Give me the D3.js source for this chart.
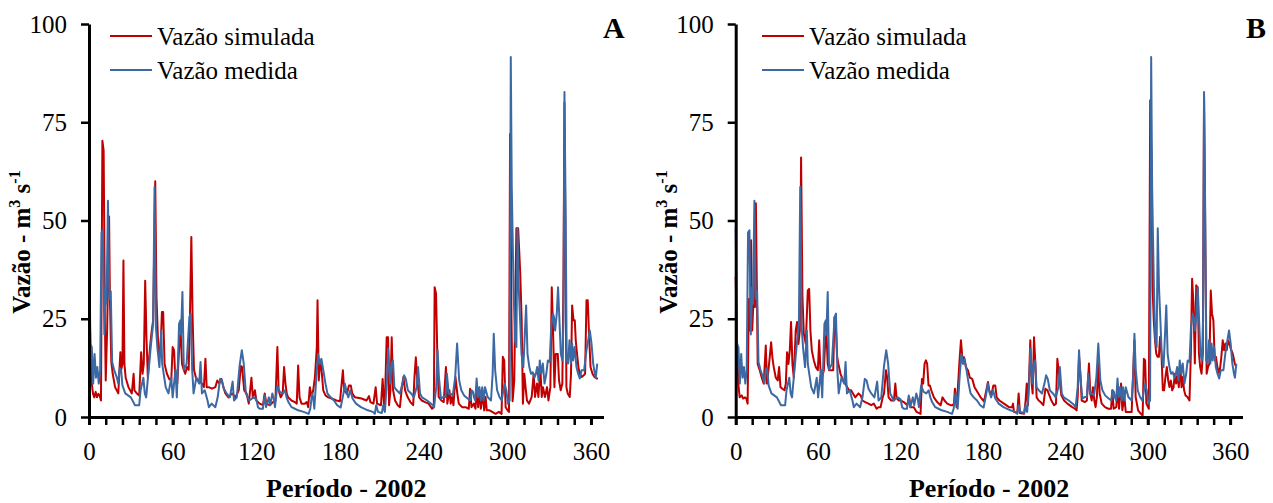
<!DOCTYPE html>
<html>
<head>
<meta charset="utf-8">
<script src="https://cdn.jsdelivr.net/npm/d3@7"></script>
<style>
  body { margin: 0; background: #fff; }
  svg { display: block; font-family: "Liberation Serif", "Times New Roman", serif; }
</style>
</head>
<body>
<svg id="chart" width="1273" height="503"></svg>
<script>
// measured discharge (same in both panels), [day, m3/s]
const medida = [
  [0,48.3],[1,18.6],[2,17.8],[3,8.5],[4,16],[5,10],[6,12.7],[7,8.5],[8,11.9],[9,47],[10,47.5],[11,21],[12,33],[12.6,28.8],[13.6,55],[14.6,30],[15.6,32],[16.6,14],[18,12],[20,10],[21,8.5],[22,12.4],[23,12],[24,8],[26,6],[30,5],[33,3],[36,3],[37,6.8],[39,10],[40,6],[41,5],[44.5,18.6],[46,23.7],[47,58.5],[48,23],[49,17.8],[50.5,12.7],[51.8,22],[52.5,13.5],[55,7.6],[57,6],[59,10],[60,5],[62,12],[63,5],[64.6,23.7],[65.6,24.6],[66,21],[67,31.8],[68,12],[70,13.5],[72,25.4],[73,26.3],[74,12],[75,6],[77,10],[79,8.5],[80,14],[81,6],[83,6.8],[85,4.2],[86,2.5],[88,3.4],[90.6,2.5],[92.3,5],[94,9.7],[95.3,9.3],[96.7,7.2],[98.7,6],[101,5],[103,9],[104,4.2],[106,5],[108,13],[109.6,17],[111,13.5],[112.5,6],[115,4.2],[118,5],
  [120,4.5],[121.2,2.5],[122.4,2.1],[124.7,2.1],[126,5.5],[127,2.5],[129,5],[130,3],[131.5,6],[132.5,4.7],[133.4,2.5],[135,8],[136.8,6.4],[138.8,6],[140.5,6.8],[141.7,5],[143,3.8],[145.3,2.5],[147.7,2.1],[150,1.7],[154,1.3],[157.5,0.8],[158.7,2.1],[160,6],[160.8,5],[161.6,2.1],[163,10],[164.3,16],[165.5,13.5],[166.7,14.8],[168,12],[169.6,8.5],[171,6],[173.3,5],[175.7,4.2],[178,3],[180.5,2.4],[182.5,6],[183.5,8.5],[185,6],[186,5],[187.4,6.8],[189,4.7],[191.5,3.4],[195,2.5],[200,1.7],[203.6,1.3],[205,0.8],[206,3],[207.3,1.3],[210,1],[211,3],[212.2,1.3],[213.6,8.5],[214.6,17.4],[216,8.5],[217,13.5],[218,14.4],[219,7.6],[220.7,6.8],[223,6],[224.8,8.5],[226,10.6],[227.2,9.7],[228.7,6.8],[231,6],[233,5],[235,7.6],[236,12.7],[237.4,6],[238.9,5],[242.5,4.2],
  [246,3.2],[247.5,2.5],[249,7.6],[250,17],[251,10],[252.4,4.7],[254.3,5.1],[255.7,5.1],[256.7,11],[258,5.9],[259.5,5.9],[260.9,5.5],[262.6,10],[264,18.7],[265.5,9.3],[267,6.8],[269,5.5],[271.5,4.7],[273.5,4.2],[274.4,6.8],[275.4,6.4],[276,5.1],[277,4.2],[278,9.8],[279,5.1],[280,7.6],[281,4.2],[282,7.6],[283,4.2],[284,7.6],[285.9,5.1],[288.3,4.2],[289.5,11],[290.3,21.2],[291.3,11.9],[292.7,6.8],[294.4,5.1],[296,4.2],[298,8.5],[299.3,6.8],[300.5,3.4],[301.7,4.2],[302.5,91.6],[303.2,58.5],[304.5,33],[305.5,19.5],[306.5,17.8],[307.3,48],[308.2,33],[309.2,24.6],[310.2,16],[311.5,12.7],[312.5,20.4],[313.5,28.4],[314.5,16],[315.8,12.7],[317,11],[318.2,11.4],[319.5,10],[320.5,11],[321.4,12.7],[322.4,9.3],[323.3,14.4],[324.3,11],[325.5,13.6],[326.7,8.5],[328,11],[329.1,14.4],[330.4,14],[331.5,22.9],[332.8,26.3],[333.5,25.4],[334.3,22],[335.5,26.3],[336.4,33],[337.4,24.6],[338.4,16],[339.5,14.4],[340.3,24.6],[341,82.7],[341.9,50],[342.6,14.4],[343.6,13.6],[344.6,19.5],[345.6,13.6],[346.5,18.7],[347.2,14.4],[348.3,17.8],[349.6,12.7],[350.8,11],[352,9.8],[353.2,11.9],[355.1,11.9],[356.8,17],[358,19.5],[359.2,22],[360.4,18.7],[361.6,13.6],[362.8,11],[363.5,10],[364.5,13.6]
];

// simulated discharge, panel A
const simuladaA = [
  [0,35.6],[1,18.6],[2,8.5],[2.9,5.9],[3.8,5],[4.8,6.4],[5.7,5],[6.7,5.9],[7.6,5.5],[8.6,4.2],[9.6,70.3],[10.5,67.8],[11.5,22],[12,9.3],[13,22],[14.4,51],[15,30],[16,14],[17,11],[18.7,7.6],[21,6],[22.5,16.5],[23,11.9],[24,13.5],[24.7,39.8],[25.4,13.5],[26.3,10],[28.3,7.6],[30.7,6],[32,11],[32.6,6.8],[34.3,6],[36,5.5],[37.4,16.5],[38.4,11],[39.3,13.5],[40.3,34.7],[41.2,20.3],[42.2,10],[43,14.4],[44,18.6],[45,22],[46,24.6],[47.5,60],[48.4,30.5],[49.4,20.3],[50.4,15.2],[51.3,17],[52.3,26.7],[53.2,26.7],[54.2,13.5],[55.9,11],[57.5,9.7],[59,9.3],[60,17.8],[61,17],[61.9,10],[63.3,8.5],[64.7,17.8],[65.7,22],[66.7,13.5],[68,12],[69,11],[70.3,12.7],[71.5,12],[72.4,25.4],[73.4,45.8],[74.3,25.4],[75.3,12],[76.7,10],[78.7,9.3],[81,8.5],[82.4,7.6],[83.5,14.8],[84.4,7.6],[85.8,7.6],[88.2,7.2],[90.6,7.6],[92,9.3],[93.4,8.5],[95,9.7],[96.4,7.6],[97.8,6],[100,5],[102.6,6],[105,5],[107.4,6.8],[108.9,13],[109.8,12.7],[111.3,6.8],[113,6],[114.6,3.4],[116.5,10],[117.5,5],[119,6.8],
  [120,4.2],[122.4,3.4],[124.8,3],[126,6],[127.2,3.4],[129.6,3],[132,3.8],[133.7,4.2],[135.1,17.8],[136,6.8],[137.5,5],[138.9,5.9],[139.9,12.7],[140.9,8.5],[141.8,6],[142.8,5],[145.2,4.2],[147.6,3.8],[149,3.4],[150,13.1],[151,5],[152.4,3.4],[154.8,3.4],[156.2,3.8],[157.2,2.5],[158.4,7.6],[159.6,5],[160.8,6.8],[162,10],[163.4,17.8],[163.9,29.7],[164.8,9.3],[165.8,14.4],[166.8,11.9],[168,6.8],[169.6,5.5],[171.6,5],[174,4.7],[177.5,4.2],[180,4],[181.2,8.5],[182.1,11.9],[183,6.8],[185,5.9],[186.4,8],[187.8,8],[188.8,6],[190.7,5],[195.5,4.7],[199,4.2],[200.8,5.3],[201.8,3.8],[204,3.4],[205.6,7.6],[206.6,3.4],[209.4,3],[210.6,9.7],[211.6,3],[212.3,5],[213.5,20.3],[214.5,20.3],[215.2,3],[216.2,6.8],[217.1,20.3],[218.1,6.8],[219.5,4.2],[221.4,3],[223,2.5],[224.3,7.2],[225.5,10.2],[226.7,6.8],[228.6,5],[230.5,3.8],[232.5,3],[233.4,10],[234.4,15.2],[235.3,10],[236.8,5],[238.7,4.2],[241,3.8],[243.6,3.4],
  [246,2.1],[247.3,2.5],[247.9,33],[248.9,31.4],[249.8,16.1],[250.8,5.1],[252.7,4.2],[254.4,3.8],[256,12.7],[257,3.4],[258.5,6.8],[259.4,3.4],[260.4,5.1],[261.4,3],[262.8,10.2],[264.2,5.9],[265.2,3.4],[267.6,2.5],[270,2.5],[272.4,2.1],[273.3,7.2],[274.3,2.5],[276,3.4],[277.2,2.1],[278.1,7.6],[279.1,2.5],[280,6.8],[281,2.1],[282.5,5.9],[283.4,1.7],[284.4,5.1],[285.3,1.7],[287.2,1.7],[289.2,1.3],[291.6,0.8],[294,1.3],[295.9,0.8],[296.8,15.3],[297.8,14.4],[298.8,2.5],[300.2,1.7],[301.2,1.3],[302,72],[303,25],[303.8,4],[305,9.3],[306.5,48],[307.8,48],[309.3,36.5],[310.3,24.6],[311.2,3.4],[312.2,11],[313.1,7.6],[314.1,4.2],[315.6,3.4],[317.5,5.1],[318.9,11],[319.9,5.1],[321.3,8.5],[322.3,5.1],[323.7,12.7],[324.7,5.1],[325.6,7.6],[327,5.1],[328.5,7.6],[329.5,4.2],[330.9,7.6],[331.9,33],[332.8,22],[333.8,7.6],[334.7,16],[336.2,16],[337.1,9.3],[338.3,6.8],[339.5,8.5],[340.3,36.5],[341,80],[342.4,7.6],[343.4,5.9],[344.8,5.1],[345.7,11],[346.5,28.4],[347.5,24.6],[348.4,24.6],[349.1,19.5],[350,16.1],[351,12.7],[351.9,11],[353.4,10.2],[354.8,10.6],[355.8,11],[356.8,29.7],[357.7,29.7],[358.7,20.4],[359.7,12.7],[361.1,11],[362.5,10.2],[364,9.8],[365,9.8]
];

// simulated discharge, panel B
const simuladaB = [
  [0,35.6],[1,18.6],[1.9,8.5],[2.9,5],[4.4,5.5],[5.4,4.7],[6.8,5],[7.7,4.7],[8.7,3.4],[9.5,30],[10.5,22],[11.2,45],[12,22],[13,30],[14,28],[14.7,54.4],[15.5,30],[16,13.5],[17.5,11.9],[19,10],[20.4,8.5],[21.9,18.2],[22.8,8.5],[24.3,13.5],[25.8,19],[26.7,15.2],[27.7,12.7],[29.2,10],[30.6,9.3],[31.6,12.7],[32.6,7.6],[34,7.2],[35.5,6.8],[36.5,8.5],[37.4,16.5],[38.4,13.5],[39.4,17],[40.3,24.2],[41.3,13.5],[42.3,10],[43.7,22],[44.7,24.2],[45.7,18.6],[46.7,22],[47.6,66],[48.6,30.5],[49.6,21.2],[51,18.6],[52.5,32.2],[53.5,32.6],[54.4,22],[55.4,17],[56.9,14.4],[58.3,12.7],[59.8,11.9],[60.8,19.5],[61.7,11.9],[62.7,10],[64.2,11.9],[65.1,18.6],[66.1,21.2],[67,13.5],[68,11.9],[69.5,11.9],[71,11.9],[71.9,25.4],[72.9,22.9],[73.9,15.2],[74.8,13.5],[76.3,11],[77.8,9.7],[79.7,8.5],[81.2,7.6],[82.6,6.8],[84,6.8],[85.5,5.9],[87,5],[89.4,6],[91,5.5],[92.3,4.2],[94.3,3.8],[96.7,3.4],[98.7,3],[100.6,3.4],[102.6,2.1],[104,2.5],[105.5,2.5],[107,5],[108,6],[109.4,11.9],[110.3,10],[111.3,5],[113.2,4.2],[115.2,4.2],[116.2,8.5],[117.1,5],[118.6,4.2],
  [120,4.2],[122.4,3.8],[124.9,3],[126.3,5],[127.3,2.5],[129.7,2.5],[131.7,1.3],[134.6,0.8],[135.6,9.7],[136.5,8.5],[137.5,13.5],[138.5,14.4],[139.4,13.5],[140.4,8],[141.4,8],[142.4,6.8],[144.3,5],[146.7,3.8],[149.2,3],[150.6,5],[152,4.2],[154,3.4],[156.5,3],[157.9,3],[158.9,3.4],[159.6,7.2],[160.8,2.5],[161.8,7.6],[162.8,13.5],[164,19.5],[165.2,14.4],[166.2,15.2],[167.6,12.7],[169.1,11.9],[170.5,10],[172.2,9.7],[173.9,7.6],[175.9,6.4],[178.3,5],[180.8,4],[182,6],[183.7,8.9],[184.6,6.8],[186.1,5.5],[187.6,8],[189,8],[190,5],[192,4.2],[195.3,3.4],[199,2.5],[201.2,2.5],[201.9,3.4],[202.6,1.3],[205,1],[206,6],[207,1],[210,0.8],[211.1,4.2],[211.9,8.5],[212.8,3],[213.8,11.9],[214.5,19.5],[215.5,8.5],[216.2,6],[217.2,20.3],[218.2,13.5],[219.1,5],[220.6,4.2],[222,3.8],[224,3],[225.5,7.2],[227,6.8],[228.4,5.5],[229.8,4.2],[231.8,3],[233.2,3.4],[234.2,14.8],[235.7,10],[237.1,5.5],[239.1,4.2],[241.5,3.4],
  [245.1,2.5],[247,2.1],[248.2,1.7],[249,5.1],[250,15.3],[251,11],[251.9,4.2],[254.3,3.8],[255.7,4.2],[257.2,13.6],[258.2,5.9],[259.2,4.2],[260.1,7.6],[261.1,4.2],[262,2.5],[263,5.1],[264,13.6],[265,5.9],[266.5,3.4],[268.9,2.5],[271.3,2.1],[273.3,2.1],[274.2,6.8],[275.2,2.1],[277.1,2.5],[278.1,7.6],[279.1,2.1],[280.6,8.5],[281.5,1.7],[283,5.1],[284,1.3],[285.5,1.3],[288.3,1.3],[290.3,19.5],[291.2,5.1],[293,1.7],[295,0.8],[296.3,0.4],[297.2,14.8],[298.1,14.4],[299,3.4],[300.8,2.1],[301.8,80.6],[302.6,67],[303.5,33],[304.4,24.6],[305.3,19.5],[306.2,16.1],[307.2,15.3],[308.1,15.3],[309,20.4],[310,16.1],[311,6.8],[311.9,6.8],[312.9,10.2],[313.9,12.7],[314.9,9.3],[315.8,7.6],[316.8,9.3],[317.8,6.8],[318.8,7.6],[319.7,11],[320.7,8.5],[321.7,11],[322.6,7.6],[323.6,13.6],[324.6,7.6],[325.5,10.2],[326.5,6.8],[327.5,5.5],[328.9,5.1],[330.4,4.2],[331.4,16.1],[332.3,35.2],[333.3,28.8],[334.3,13.6],[335.3,33.5],[336.3,33],[337.3,16.1],[338.2,12.7],[339.2,11],[340.1,16.1],[341,81.4],[342,41.6],[342.9,11],[343.9,12.7],[344.9,13.6],[345.9,32.2],[346.8,26.3],[347.8,24.6],[348.8,14.4],[349.7,15.3],[350.7,12.7],[352.2,11],[353.6,15.3],[354.6,19.5],[355.6,17],[356.6,18.7],[357.5,17],[358.5,19.5],[359.5,18.7],[360.4,17.4],[361.9,16.1],[363.4,13.6],[364.5,12.7]
];

const yTicks = [0, 25, 50, 75, 100];
const xTicks = [0, 60, 120, 180, 240, 300, 360];
const xMinor = d3.range(0, 361, 12);
const legendLabels = ["Vazão simulada", "Vazão medida"];

const RED = "#c00000";
const BLUE = "#3c69a3";

const svg = d3.select("#chart");

const panels = [
  { letter: "A", sim: simuladaA, x0: 89, x1: 603.5, legX: 110, letterX: 603 },
  { letter: "B", sim: simuladaB, x0: 735.7, x1: 1242.5, legX: 762, letterX: 1246 }
];

const yTop = 24, yBot = 417;

panels.forEach(p => {
  const g = svg.append("g");

  const x = d3.scaleLinear().domain([0, 369]).range([p.x0, p.x1]);
  const y = d3.scaleLinear().domain([0, 100]).range([yBot, yTop]);

  const line = d3.line()
    .x(d => x(d[0]))
    .y(d => y(d[1]));

  // lines (measured drawn on top)
  g.append("path")
    .datum(p.sim)
    .attr("fill", "none")
    .attr("stroke", RED)
    .attr("stroke-width", 2)
    .attr("stroke-linejoin", "round")
    .attr("d", line);

  g.append("path")
    .datum(medida)
    .attr("fill", "none")
    .attr("stroke", BLUE)
    .attr("stroke-width", 2)
    .attr("stroke-linejoin", "round")
    .attr("d", line);

  // y axis
  const yAxisG = g.append("g")
    .attr("transform", `translate(${p.x0},0)`)
    .call(d3.axisLeft(y).tickValues(yTicks).tickSize(8).tickPadding(14).tickSizeOuter(0));
  yAxisG.select(".domain").attr("stroke-width", 3);
  yAxisG.selectAll(".tick line").attr("stroke-width", 2.5);
  yAxisG.selectAll("text")
    .attr("font-family", "Liberation Serif, Times New Roman, serif")
    .attr("font-size", 25)
    .attr("fill", "#000");

  // x axis minor ticks
  g.append("g")
    .attr("transform", `translate(0,${yBot})`)
    .call(d3.axisBottom(x).tickValues(xMinor).tickSize(8).tickFormat("").tickSizeOuter(0))
    .call(a => a.select(".domain").remove())
    .selectAll(".tick line").attr("stroke-width", 2.5);

  // x axis major ticks
  const xAxisG = g.append("g")
    .attr("transform", `translate(0,${yBot})`)
    .call(d3.axisBottom(x).tickValues(xTicks).tickSize(8).tickPadding(17).tickSizeOuter(0));
  xAxisG.select(".domain").attr("stroke-width", 3);
  xAxisG.selectAll(".tick line").attr("stroke-width", 3);
  xAxisG.selectAll("text")
    .attr("font-family", "Liberation Serif, Times New Roman, serif")
    .attr("font-size", 25)
    .attr("fill", "#000");

  // y title
  const yt = g.append("text")
    .attr("transform", `translate(${p.x0 - 59},0) rotate(-90)`)
    .attr("x", -242)
    .attr("y", 0)
    .attr("text-anchor", "middle")
    .attr("font-weight", "bold")
    .attr("font-size", 25);
  yt.append("tspan").text("Vazão - m");
  yt.append("tspan").attr("dy", -10).attr("font-size", 16).text("3");
  yt.append("tspan").attr("dy", 10).text(" s");
  yt.append("tspan").attr("dy", -10).attr("font-size", 16).text("-1");

  // x title
  g.append("text")
    .attr("x", (p.x0 + p.x1) / 2)
    .attr("y", 497)
    .attr("text-anchor", "middle")
    .attr("font-weight", "bold")
    .attr("font-size", 26)
    .text("Período - 2002");

  // panel letter
  g.append("text")
    .attr("x", p.letterX)
    .attr("y", 38)
    .attr("font-weight", "bold")
    .attr("font-size", 30)
    .text(p.letter);

  // legend
  const legColors = [RED, BLUE];
  const legY = [36, 70];
  legendLabels.forEach((lab, i) => {
    g.append("line")
      .attr("x1", p.legX).attr("x2", p.legX + 42)
      .attr("y1", legY[i]).attr("y2", legY[i])
      .attr("stroke", legColors[i])
      .attr("stroke-width", 2);
    g.append("text")
      .attr("x", p.legX + 47)
      .attr("y", legY[i] + 9)
      .attr("font-size", 25)
      .text(lab);
  });
});
</script>
</body>
</html>
